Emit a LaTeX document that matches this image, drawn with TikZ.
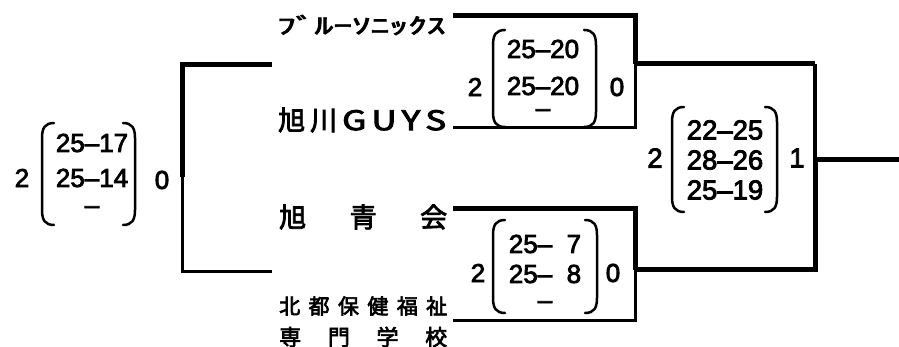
\documentclass[tikz,border=0pt]{standalone}
\usepackage{fontspec}
\usepackage{graphicx}
\setmainfont[FakeBold=3]{Liberation Sans}
\newfontfamily\jpfont[FakeBold=3]{Noto Sans CJK JP}
\newcommand\parbrk[4]{%
  \draw[paren] ({#1+12},#3) .. controls ({#1+3},#3) and (#1,{#3+5}) .. (#1,{#3+15}) -- (#1,{#4-15}) .. controls (#1,{#4-5}) and ({#1+3},#4) .. ({#1+12},#4);
  \draw[paren] ({#2-12},#3) .. controls ({#2-3},#3) and (#2,{#3+5}) .. (#2,{#3+15}) -- (#2,{#4-15}) .. controls (#2,{#4-5}) and ({#2-3},#4) .. ({#2-12},#4);}
\begin{document}
\begin{tikzpicture}[x=1pt,y=-1pt,
  thk/.style={line width=5pt,line join=miter},
  thn/.style={line width=3pt,line join=miter},
  paren/.style={line width=2.5pt,line cap=round},
  num/.style={font=\fontsize{26}{26}\selectfont,inner sep=0pt},
  fnum/.style={font=\fontsize{27.5}{27.5}\selectfont,inner sep=0pt},
  team/.style={inner sep=0pt,anchor=west}]
\useasboundingbox[fill=white] (0,0) rectangle (899,347);

% ---------- team names ----------
\node[team,font=\jpfont\fontsize{22}{22}\selectfont] (t1) at (277,25) {\scalebox{1.7}[1]{ﾌﾞﾙｰｿﾆｯｸｽ}};
\node[team,font=\jpfont\fontsize{27}{27}\selectfont] (t2) at (278,120) {\makebox[168pt][s]{旭\hfill 川\hfill \scalebox{1.3}[1]{G}\hfill \scalebox{1.3}[1]{U}\hfill \scalebox{1.3}[1]{Y}\hfill \scalebox{1.3}[1]{S}}};
\node[team,font=\jpfont\fontsize{27}{27}\selectfont] (t3) at (279,217) {\makebox[168pt][s]{旭\hfill 青\hfill 会}};
\node[team,font=\jpfont\fontsize{21}{21}\selectfont] (t4) at (279,306) {\makebox[168pt][s]{北\hfill 都\hfill 保\hfill 健\hfill 福\hfill 祉}};
\node[team,font=\jpfont\fontsize{22}{22}\selectfont] (t5) at (279,337) {\makebox[168pt][s]{専\hfill 門\hfill 学\hfill 校}};

% ---------- bracket coordinates ----------
\coordinate (l1) at (272,65);  \coordinate (l2) at (182,65);
\coordinate (lm) at (182,177); \coordinate (l3) at (182,272); \coordinate (l4) at (272,272);

\coordinate (a1) at (453,16);  \coordinate (a2) at (635,16);
\coordinate (am) at (635,64);  \coordinate (a3) at (635,128); \coordinate (a4) at (453,128);

\coordinate (b1) at (453,209); \coordinate (b2) at (635,209);
\coordinate (bm) at (635,270); \coordinate (b3) at (635,320); \coordinate (b4) at (453,320);

\coordinate (f1) at (815,64);  \coordinate (fm) at (815,160);
\coordinate (f2) at (815,270); \coordinate (fo) at (899,160);

% ---------- left bracket ----------
\draw[thk] (l1) -- (l2) -- (lm);
\draw[thn] (lm) -- (l3) -- (l4);
% ---------- upper semifinal ----------
\draw[thk] (a1) -- (a2) -- (am);
\draw[thn] (am) -- (a3) -- (a4);
% ---------- lower semifinal ----------
\draw[thk] (b1) -- (b2) -- (bm);
\draw[thn] (bm) -- (b3) -- (b4);
% ---------- final ----------
\draw[thk] (am) -- (f1);
\draw[line width=3.5pt] (f1) -- (fm);
\draw[thk] (bm) -- (f2) -- (fm) -- (fo);

% ---------- left score ----------
\node[num] (la) at (22,178) {2};
\parbrk{42}{135}{123}{225}
\node[num] (lr1) at (92,143) {25–17};
\node[num] (lr2) at (92,178) {25–14};
\node[num] (lr3) at (92,210) {–};
\node[num] (lb) at (162,180) {0};

% ---------- upper semifinal score ----------
\node[num] (ua) at (475,87) {2};
\parbrk{493}{596}{30}{127}
\node[num] (ur1) at (543,49) {25–20};
\node[num] (ur2) at (543,86) {25–20};
\node[num] (ur3) at (543,113) {–};
\node[num] (ub) at (617,87) {0};

% ---------- lower semifinal score ----------
\node[num] (da) at (478,273) {2};
\parbrk{493}{597}{220}{313}
\node[num] (dr1) at (545,244) {25–\ \kern0.28em 7};
\node[num] (dr2) at (545,274) {25–\ \kern0.28em 8};
\node[num] (dr3) at (545,305) {–};
\node[num] (db) at (613,273) {0};

% ---------- final score ----------
\node[fnum] (fa) at (655,158) {2};
\parbrk{672}{777}{107}{212}
\node[fnum] (fr1) at (725,130) {22–25};
\node[fnum] (fr2) at (725,160) {28–26};
\node[fnum] (fr3) at (725,190) {25–19};
\node[fnum] (fb) at (797,158) {1};
\end{tikzpicture}
\end{document}
